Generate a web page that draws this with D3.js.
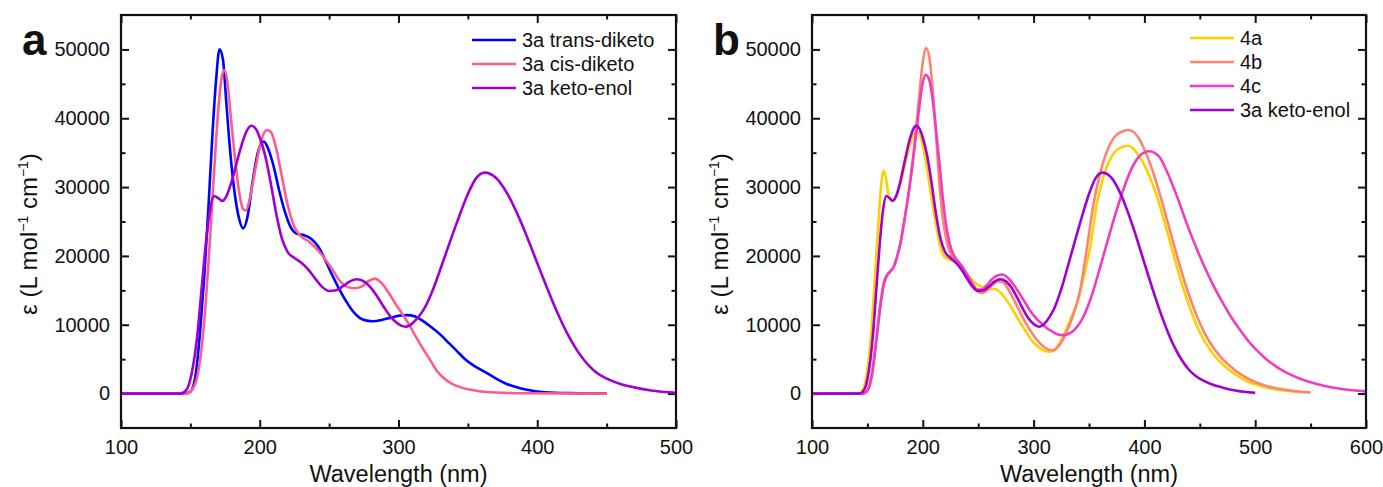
<!DOCTYPE html>
<html>
<head>
<meta charset="utf-8">
<script src="https://cdn.jsdelivr.net/npm/d3@7"></script>
<style>
  html, body { margin: 0; padding: 0; background: #fff; }
  svg { display: block; }
  text { font-family: "Liberation Sans", Arial, sans-serif; fill: #111; }
</style>
</head>
<body>
<svg id="chart" width="1383" height="487"></svg>
<script>
// ---- Absorption spectra: [wavelength (nm), epsilon (L mol^-1 cm^-1)] ----
const transDiketo = [[100,0],[145,0],[150,300],[154,3000],[157,9000],[160,17000],[163,27000],[166,38000],[168.5,45500],[171,50000],[173.5,48500],[176,42000],[179,34500],[182,29000],[185,25500],[188,24000],[191,25500],[195,31000],[199,35300],[203,36600],[206,35600],[210,33000],[214,29500],[218,26500],[222,24300],[227,23200],[232,23000],[237,22500],[242,21400],[247,19500],[252,17300],[257,15300],[262,13500],[267,12000],[272,11000],[277,10600],[282,10500],[288,10700],[294,11000],[300,11300],[306,11400],[312,11200],[318,10500],[324,9600],[330,8600],[336,7400],[342,6200],[348,5000],[354,4100],[360,3400],[366,2700],[372,2000],[378,1400],[384,1000],[390,650],[400,300],[410,150],[425,60],[450,0]];

const cisDiketo = [[100,0],[147,0],[151,500],[155,2500],[158,6500],[161,13000],[164,22000],[167,32000],[170,41000],[172.5,45800],[174.5,47000],[176.5,45500],[179,40500],[182,34500],[185,29500],[188,26800],[190,26600],[193,28500],[197,32800],[201,36700],[205,38300],[208,38000],[212,35500],[216,31500],[220,27500],[225,24200],[230,22800],[236,22000],[242,20800],[248,19300],[253,17800],[258,16300],[263,15500],[268,15300],[273,15500],[278,16300],[283,16700],[288,16000],[293,14600],[298,13000],[303,11500],[308,9900],[313,8100],[318,6400],[323,4800],[328,3200],[333,2200],[338,1500],[345,900],[355,450],[370,150],[390,40],[450,0]];

const ketoEnol = [[100,0],[143,0],[147,500],[151,3000],[155,8500],[158,15000],[161,21500],[164,26500],[167,28700],[170,28400],[173,28000],[176,28700],[180,31000],[184,34000],[188,36800],[191,38300],[194,38900],[197,38500],[200,37200],[204,34500],[208,30500],[212,26000],[216,22500],[220,20600],[225,19700],[230,19000],[235,18000],[240,16700],[245,15500],[250,14900],[255,15000],[260,15600],[265,16300],[270,16600],[275,16300],[280,15400],[285,14000],[290,12400],[295,11000],[300,10100],[305,9700],[310,10200],[315,11300],[319,12500],[325,15200],[333,19700],[342,24800],[350,29000],[356,31300],[362,32100],[370,31400],[378,29200],[385,26400],[391,23600],[398,20000],[404,16900],[410,13900],[416,11100],[422,8600],[428,6500],[434,4800],[440,3500],[446,2600],[452,2000],[460,1400],[470,900],[482,450],[500,100]];

const cmpd4a = [[100,0],[142,0],[146,600],[150,3500],[154,10000],[157,17500],[160,25000],[162.5,30500],[164.5,32400],[166.5,31500],[169,29000],[172,28000],[176,28800],[180,30500],[185,34000],[190,37000],[194,38000],[197,37800],[200,36000],[204,32500],[208,28200],[212,24500],[216,21200],[220,19800],[225,19400],[230,19000],[235,18200],[240,17300],[245,16400],[250,15800],[255,15400],[260,15200],[265,15200],[270,14700],[275,13700],[280,12500],[285,11100],[290,9800],[295,8500],[300,7400],[305,6700],[310,6200],[315,6100],[320,6500],[325,7800],[330,9500],[335,11500],[340,13500],[345,16800],[351,21200],[357,27500],[363,31500],[370,34300],[378,35700],[386,36000],[393,35000],[400,33200],[406,31000],[412,28300],[418,25000],[424,21500],[430,18000],[436,14800],[442,12000],[448,9600],[454,7700],[460,6200],[466,5000],[473,3900],[481,2900],[490,2000],[500,1350],[512,800],[528,400],[550,150]];

const cmpd4b = [[100,0],[146,0],[150,500],[154,3000],[158,8000],[162,13500],[165,16300],[168,17300],[171,17800],[174,18500],[177,20000],[180,22000],[184,25800],[188,30000],[192,35500],[196,42000],[199.5,47500],[203,50200],[206,48800],[209,44000],[212,37500],[215,30500],[218,25500],[222,21800],[226,20000],[230,19300],[235,18500],[240,17200],[245,15800],[250,14800],[254,14600],[258,15000],[263,15800],[268,16300],[272,16200],[277,15200],[282,13700],[287,12100],[292,10500],[297,9200],[302,8000],[307,7100],[312,6500],[317,6300],[322,6800],[327,8000],[332,9800],[337,12000],[342,15000],[348,21000],[354,27500],[360,32000],[367,35500],[375,37600],[386,38300],[394,37300],[402,34700],[409,31600],[415,28400],[421,24900],[427,21400],[433,18000],[439,14900],[445,12200],[451,9900],[457,8000],[463,6500],[470,5100],[478,3900],[487,2800],[497,1900],[508,1200],[520,750],[535,380],[550,150]];

const cmpd4c = [[100,0],[146,0],[150,400],[154,2500],[158,7500],[162,13000],[165,16000],[168,17200],[171,17800],[174,18500],[177,20000],[180,22000],[184,25800],[188,30000],[192,35000],[196,40500],[199.5,44800],[202.5,46300],[206,45500],[209,42500],[212,38200],[215,33500],[218,28500],[222,23500],[226,20800],[230,19600],[235,18600],[240,17300],[245,15900],[249,15100],[253,15100],[258,15800],[263,16700],[268,17200],[272,17300],[277,16800],[282,15800],[287,14600],[292,13300],[297,12000],[302,11000],[307,10200],[312,9500],[317,9000],[322,8600],[327,8500],[332,8700],[337,9300],[342,10300],[347,11900],[352,14000],[358,17200],[364,20600],[370,24000],[378,28200],[386,31800],[394,34200],[404,35200],[413,34500],[421,32000],[430,28400],[438,24800],[446,21500],[454,18500],[462,15800],[470,13400],[478,11200],[486,9300],[494,7600],[502,6200],[510,5000],[520,3800],[530,2900],[540,2200],[550,1650],[562,1150],[575,750],[588,480],[600,320]];

// ---- Axis ticks ----
const xTicksA = [100, 200, 300, 400, 500];
const xMinorA = [150, 250, 350, 450];
const xTicksB = [100, 200, 300, 400, 500, 600];
const xMinorB = [150, 250, 350, 450, 550];
const yTicks = [0, 10000, 20000, 30000, 40000, 50000];
const yMinor = [5000, 15000, 25000, 35000, 45000];
const yDomain = [-5000, 55000];

// ---- Legends ----
const legendA = ["3a trans-diketo", "3a cis-diketo", "3a keto-enol"];
const legendB = ["4a", "4b", "4c", "3a keto-enol"];

const svg = d3.select("#chart");
svg.append("rect").attr("width", 1383).attr("height", 487).attr("fill", "#fff");

const plotTop = 15, plotBottom = 428;
const y = d3.scaleLinear().domain(yDomain).range([plotBottom, plotTop]);

function drawPanel(opts) {
  const { left, right, xDomain, xTicks, xMinor, series, labels, letter, legendPos } = opts;
  const x = d3.scaleLinear().domain(xDomain).range([left, right]);
  const g = svg.append("g");

  const major = 8, minor = 4.5;
  const hide = sel => sel.select(".domain").remove();

  // bottom axis with labels, ticks pointing inward
  g.append("g").attr("transform", `translate(0,${plotBottom})`)
    .call(d3.axisBottom(x).tickValues(xTicks).tickSizeInner(-major).tickSizeOuter(0).tickPadding(12).tickFormat(d3.format("d")))
    .call(hide);
  g.append("g").attr("transform", `translate(0,${plotBottom})`)
    .call(d3.axisBottom(x).tickValues(xMinor).tickSizeInner(-minor).tickSizeOuter(0).tickFormat(""))
    .call(hide);
  // top axis, ticks only
  g.append("g").attr("transform", `translate(0,${plotTop})`)
    .call(d3.axisTop(x).tickValues(xTicks).tickSizeInner(-major).tickSizeOuter(0).tickFormat(""))
    .call(hide);
  g.append("g").attr("transform", `translate(0,${plotTop})`)
    .call(d3.axisTop(x).tickValues(xMinor).tickSizeInner(-minor).tickSizeOuter(0).tickFormat(""))
    .call(hide);
  // left axis with labels
  g.append("g").attr("transform", `translate(${left},0)`)
    .call(d3.axisLeft(y).tickValues(yTicks).tickSizeInner(-major).tickSizeOuter(0).tickPadding(11).tickFormat(d3.format("d")))
    .call(hide);
  g.append("g").attr("transform", `translate(${left},0)`)
    .call(d3.axisLeft(y).tickValues(yMinor).tickSizeInner(-minor).tickSizeOuter(0).tickFormat(""))
    .call(hide);
  // right axis, ticks only
  g.append("g").attr("transform", `translate(${right},0)`)
    .call(d3.axisRight(y).tickValues(yTicks).tickSizeInner(-major).tickSizeOuter(0).tickFormat(""))
    .call(hide);
  g.append("g").attr("transform", `translate(${right},0)`)
    .call(d3.axisRight(y).tickValues(yMinor).tickSizeInner(-minor).tickSizeOuter(0).tickFormat(""))
    .call(hide);

  g.selectAll(".tick line").attr("stroke", "#111").attr("stroke-width", 2);
  g.selectAll(".tick text").attr("font-size", 20).attr("fill", "#111")
    .style("font-family", '"Liberation Sans", Arial, sans-serif');

  // curves
  const line = d3.line().x(d => x(d[0])).y(d => y(d[1])).curve(d3.curveMonotoneX);
  series.forEach(s => {
    g.append("path").datum(s.data)
      .attr("d", line)
      .attr("fill", "none")
      .attr("stroke", s.color)
      .attr("stroke-width", 2.6)
      .attr("stroke-linejoin", "round");
  });

  // frame
  g.append("rect")
    .attr("x", left).attr("y", plotTop)
    .attr("width", right - left).attr("height", plotBottom - plotTop)
    .attr("fill", "none").attr("stroke", "#111").attr("stroke-width", 2.2);

  // legend
  const lg = g.append("g");
  series.forEach((s, i) => {
    const yy = legendPos.y + i * 24;
    lg.append("line")
      .attr("x1", legendPos.x).attr("x2", legendPos.x + 44)
      .attr("y1", yy).attr("y2", yy)
      .attr("stroke", s.color).attr("stroke-width", 2.6);
    lg.append("text")
      .attr("x", legendPos.x + 50).attr("y", yy).attr("dy", "0.35em")
      .attr("font-size", 20).text(labels[i]);
  });

  // axis titles
  g.append("text")
    .attr("x", (left + right) / 2).attr("y", 482)
    .attr("text-anchor", "middle").attr("font-size", 23.5)
    .text("Wavelength (nm)");

  const yt = g.append("text")
    .attr("transform", `translate(${left - 84},234) rotate(-90)`)
    .attr("text-anchor", "middle").attr("font-size", 24);
  yt.append("tspan").text("ε (L mol");
  yt.append("tspan").attr("font-size", 14).attr("dy", -9).text("−1");
  yt.append("tspan").attr("dy", 9).text(" cm");
  yt.append("tspan").attr("font-size", 14).attr("dy", -9).text("−1");
  yt.append("tspan").attr("dy", 9).text(")");

  // panel letter
  g.append("text")
    .attr("x", left - 99).attr("y", 55)
    .attr("font-size", 44).attr("font-weight", "bold")
    .text(letter);
}

drawPanel({
  left: 121, right: 676, xDomain: [100, 500],
  xTicks: xTicksA, xMinor: xMinorA,
  series: [
    { data: transDiketo, color: "#0000ff" },
    { data: cisDiketo, color: "#ff5c8d" },
    { data: ketoEnol, color: "#a000d4" }
  ],
  labels: legendA, letter: "a",
  legendPos: { x: 472, y: 40 }
});

drawPanel({
  left: 812, right: 1366, xDomain: [100, 600],
  xTicks: xTicksB, xMinor: xMinorB,
  series: [
    { data: cmpd4a, color: "#ffd000" },
    { data: cmpd4b, color: "#ff8470" },
    { data: cmpd4c, color: "#f03cbf" },
    { data: ketoEnol, color: "#a000d4" }
  ],
  labels: legendB, letter: "b",
  legendPos: { x: 1190, y: 38 }
});
</script>
</body>
</html>
